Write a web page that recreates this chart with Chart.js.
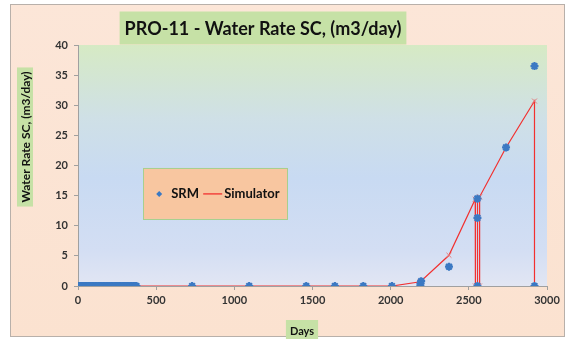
<!DOCTYPE html>
<html>
<head>
<meta charset="utf-8">
<script src="https://cdn.jsdelivr.net/npm/chart.js@4/dist/chart.umd.min.js"></script>
<style>
  html, body { margin: 0; padding: 0; background: #ffffff; }
  #wrap { width: 569px; height: 339px; }
</style>
</head>
<body>
<div id="wrap"><canvas id="c" width="569" height="339"></canvas></div>
<script>
// Chart text
const chartTitle = 'PRO-11 - Water Rate SC, (m3/day)';
const yTitle = 'Water Rate SC, (m3/day)';
const xTitle = 'Days';
const seriesNames = ['SRM', 'Simulator'];

// Axis ticks
const xTicks = [0, 500, 1000, 1500, 2000, 2500, 3000];
const yTicks = [0, 5, 10, 15, 20, 25, 30, 35, 40];

// SRM observations (days, m3/day)
const srmDays = [0, 6, 12, 18, 24, 31, 38, 45, 52, 59, 66, 73, 80, 90, 100, 110, 120, 130, 140, 151,
  161, 171, 181, 191, 201, 212, 222, 232, 243, 253, 263, 273, 283, 294, 304, 314, 324, 334, 344, 355,
  365, 374, 730, 1095, 1460, 1643, 1825, 2008, 2190, 2190, 2195, 2373, 2555, 2555, 2555, 2738, 2920, 2920];
const srmRate = [0, 0, 0, 0, 0, 0, 0, 0, 0, 0, 0, 0, 0, 0, 0, 0, 0, 0, 0, 0,
  0, 0, 0, 0, 0, 0, 0, 0, 0, 0, 0, 0, 0, 0, 0, 0, 0, 0, 0, 0,
  0, 0, 0, 0, 0, 0, 0, 0, 0, 0.4, 0.8, 3.2, 0, 11.3, 14.5, 23.0, 36.5, 0];

// Simulator output (days, m3/day)
const simDays = [0, 365, 730, 1095, 1460, 1643, 1825, 2008, 2190, 2373, 2541, 2542, 2554, 2555, 2556, 2568, 2569, 2738, 2920, 2920];
const simRate = [0, 0, 0, 0, 0, 0, 0, 0, 0.7, 5.1, 14.4, 0, 0, 14.6, 0, 0, 14.8, 23.0, 30.7, 0];

const srmColor = '#3b79c3';
const simColor = '#f2302f';

function pairs(xs, ys) { return xs.map((x, i) => ({ x: x, y: ys[i] })); }

const FONT = 'Lato, "Open Sans", "Liberation Sans", sans-serif';

function boxedText(ctx, text, cx, cy, font, padX, padY, fill, rotate) {
  ctx.save();
  ctx.font = font;
  const w = ctx.measureText(text).width;
  const m = ctx.measureText('Hg');
  const h = (m.actualBoundingBoxAscent + m.actualBoundingBoxDescent);
  ctx.translate(cx, cy);
  if (rotate) ctx.rotate(-Math.PI / 2);
  ctx.fillStyle = fill;
  ctx.fillRect(-w / 2 - padX, -h / 2 - padY, w + 2 * padX, h + 2 * padY);
  ctx.fillStyle = '#111111';
  ctx.textAlign = 'center';
  ctx.textBaseline = 'middle';
  ctx.fillText(text, 0, 1);
  ctx.restore();
}

const decor = {
  id: 'decor',
  beforeDraw(chart) {
    const ctx = chart.ctx;
    const a = chart.chartArea;
    ctx.save();
    ctx.fillStyle = '#ffffff';
    ctx.fillRect(0, 0, chart.width, chart.height);
    // outer panel
    const pg = ctx.createLinearGradient(0, 0, 0, chart.height);
    pg.addColorStop(0, '#fce6d8');
    pg.addColorStop(1, '#fbe2d0');
    ctx.fillStyle = pg;
    ctx.fillRect(10, 4, chart.width - 14, chart.height - 6);
    ctx.strokeStyle = '#b8b0aa';
    ctx.lineWidth = 1;
    ctx.strokeRect(10.5, 4.5, chart.width - 15, chart.height - 7);
    // plot area
    const g = ctx.createLinearGradient(0, a.top, 0, a.bottom);
    g.addColorStop(0, '#d6eac4');
    g.addColorStop(0.3, '#cfe0e6');
    g.addColorStop(0.55, '#c8daf2');
    g.addColorStop(0.85, '#d3def3');
    g.addColorStop(1, '#e2e6f3');
    ctx.fillStyle = g;
    ctx.fillRect(a.left, a.top, a.right - a.left, a.bottom - a.top);
    ctx.restore();
  },
  afterDraw(chart) {
    const ctx = chart.ctx;
    const a = chart.chartArea;
    // title and axis titles
    boxedText(ctx, chartTitle, 263, 28, 'bold 18px ' + FONT, 5, 8, '#c6e1a6', false);
    boxedText(ctx, yTitle, 25, 137, 'bold 12px ' + FONT, 4, 3, '#c6e1a6', true);
    boxedText(ctx, xTitle, 302, 330, 'bold 11px ' + FONT, 4, 5, '#c6e1a6', false);

    // legend box inside the plot area
    const lx = a.left + 0.139 * (a.right - a.left);
    const ly = a.top + 0.51 * (a.bottom - a.top);
    const lw = 144, lh = 51;
    ctx.save();
    ctx.fillStyle = '#f8c6a0';
    ctx.fillRect(lx, ly, lw, lh);
    ctx.strokeStyle = '#a8cf8e';
    ctx.lineWidth = 1;
    ctx.strokeRect(Math.round(lx) + 0.5, Math.round(ly) + 0.5, lw, lh);
    const my = ly + 26;
    // SRM marker
    ctx.fillStyle = srmColor;
    ctx.beginPath();
    ctx.moveTo(lx + 16, my - 3); ctx.lineTo(lx + 19, my); ctx.lineTo(lx + 16, my + 3); ctx.lineTo(lx + 13, my);
    ctx.closePath(); ctx.fill();
    ctx.font = 'bold 13px ' + FONT;
    ctx.fillStyle = '#111111';
    ctx.textBaseline = 'middle';
    ctx.textAlign = 'left';
    ctx.fillText(seriesNames[0], lx + 28, my);
    // Simulator line
    ctx.strokeStyle = simColor;
    ctx.lineWidth = 1.3;
    ctx.beginPath();
    ctx.moveTo(lx + 60, my); ctx.lineTo(lx + 79, my);
    ctx.stroke();
    ctx.fillText(seriesNames[1], lx + 81, my);
    ctx.restore();
  }
};

const tickFont = { family: FONT, size: 11, weight: 'bold' };

new Chart(document.getElementById('c'), {
  type: 'scatter',
  data: {
    datasets: [
      {
        label: seriesNames[0],
        data: pairs(srmDays, srmRate),
        showLine: false,
        pointStyle: 'star',
        pointRadius: 4,
        pointBorderWidth: 2.2,
        borderColor: srmColor,
        backgroundColor: srmColor
      },
      {
        label: seriesNames[1],
        data: pairs(simDays, simRate),
        showLine: true,
        borderColor: simColor,
        borderWidth: 1.2,
        pointStyle: 'crossRot',
        pointRadius: 3.5,
        pointBorderWidth: 1,
        pointBorderColor: '#e57b7b',
        backgroundColor: '#e57b7b',
        tension: 0
      }
    ]
  },
  options: {
    responsive: false,
    animation: false,
    layout: { padding: { left: 10, right: 22, top: 45, bottom: 0 } },
    plugins: {
      legend: { display: false },
      title: { display: false },
      tooltip: { enabled: false }
    },
    scales: {
      x: {
        type: 'linear',
        min: xTicks[0],
        max: xTicks[xTicks.length - 1],
        afterBuildTicks(scale) { scale.ticks = xTicks.map(v => ({ value: v })); },
        afterFit(scale) { scale.height = 53; },
        ticks: { font: tickFont, color: '#333333', padding: 4, maxRotation: 0, callback: v => String(v) },
        grid: { drawOnChartArea: false, tickLength: 4, color: '#a0a0a0' },
        border: { display: true, color: '#a0a0a0' }
      },
      y: {
        type: 'linear',
        min: yTicks[0],
        max: yTicks[yTicks.length - 1],
        afterBuildTicks(scale) { scale.ticks = yTicks.map(v => ({ value: v })); },
        afterFit(scale) { scale.width = 68; },
        ticks: { font: tickFont, color: '#333333', padding: 6, callback: v => String(v) },
        grid: { drawOnChartArea: false, tickLength: 4, color: '#a0a0a0' },
        border: { display: true, color: '#a0a0a0' }
      }
    }
  },
  plugins: [decor]
});
</script>
</body>
</html>
